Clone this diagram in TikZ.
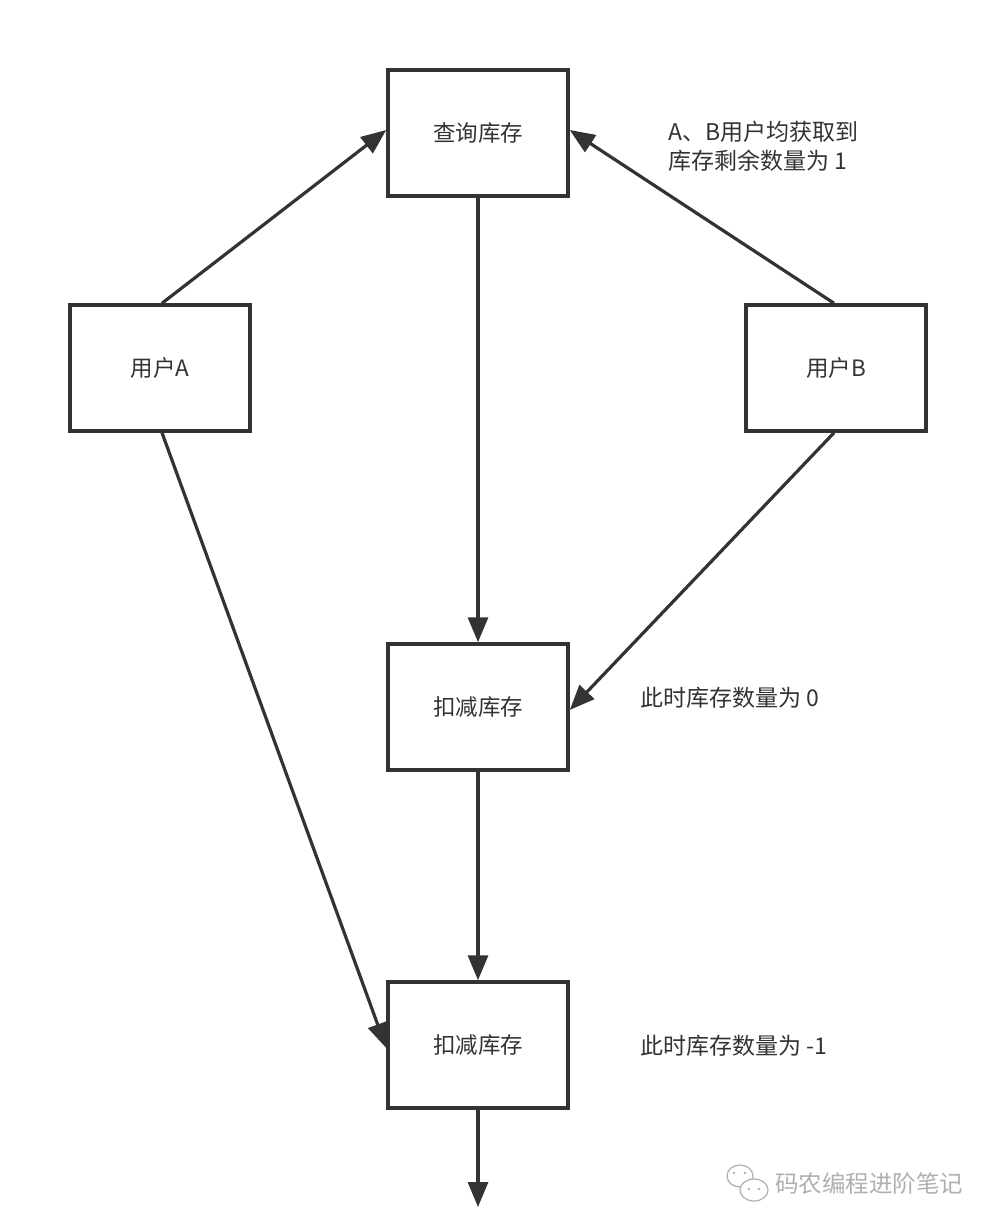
\documentclass[tikz,border=0pt]{standalone}
\usepackage{fontspec}
\setmainfont{Noto Sans CJK SC}
\usetikzlibrary{arrows.meta}
\definecolor{ink}{HTML}{333333}
\definecolor{wm}{HTML}{B0B0B0}
\begin{document}
\begin{tikzpicture}[x=1pt,y=-1pt,
  box/.style={draw=ink,line width=3.5pt,minimum width=180pt,minimum height=126pt,inner sep=0pt,font=\fontsize{22.5}{26}\selectfont,text=ink},
  lbl/.style={font=\fontsize{23}{29}\selectfont,text=ink,inner sep=0pt,align=left,anchor=west},
  conn/.style={draw=ink,line width=3.2pt,-{Triangle[length=25pt,width=20pt]}}]
\useasboundingbox[fill=white] (0,0) rectangle (996,1228);
\node[box] (query) at (478,133) {查询库存};
\node[box] (ua) at (160,368) {用户A};
\node[box] (ub) at (836,368) {用户B};
\node[box] (dec1) at (478,707) {扣减库存};
\node[box] (dec2) at (478,1045) {扣减库存};
\coordinate (end) at (478,1207);
\node[lbl] (l1) at (668,146) {A、B用户均获取到\\库存剩余数量为 1};
\node[lbl] (l2) at (640,698) {此时库存数量为 0};
\node[lbl] (l3) at (640,1046) {此时库存数量为 -1};
\draw[conn] ([xshift=2pt]ua.north) -- ([yshift=3pt]query.west);
\draw[conn] ([xshift=-2pt]ub.north) -- ([yshift=3pt]query.east);
\draw[conn] (query.south) -- (dec1.north);
\draw[conn] ([xshift=-2pt]ub.south) -- ([yshift=-3pt]dec1.east);
\draw[conn] ([xshift=2pt]ua.south) -- ([yshift=-3pt]dec2.west);
\draw[conn] (dec1.south) -- (dec2.north);
\draw[conn] (dec2.south) -- (end);
% watermark
\begin{scope}[draw=wm,line width=1.2pt]
\draw (740,1176) ellipse (13pt and 11pt);
\draw[fill=white] (754,1190) ellipse (14pt and 11pt);
\fill[wm] (734,1173) circle (1.4pt) (745,1173) circle (1.4pt) (749,1189) circle (1.4pt) (759,1189) circle (1.4pt);
\end{scope}
\node[font=\fontsize{23.5}{27}\selectfont,text=wm,anchor=west,inner sep=0pt] (wmtext) at (775,1184) {码农编程进阶笔记};
\end{tikzpicture}
\end{document}
